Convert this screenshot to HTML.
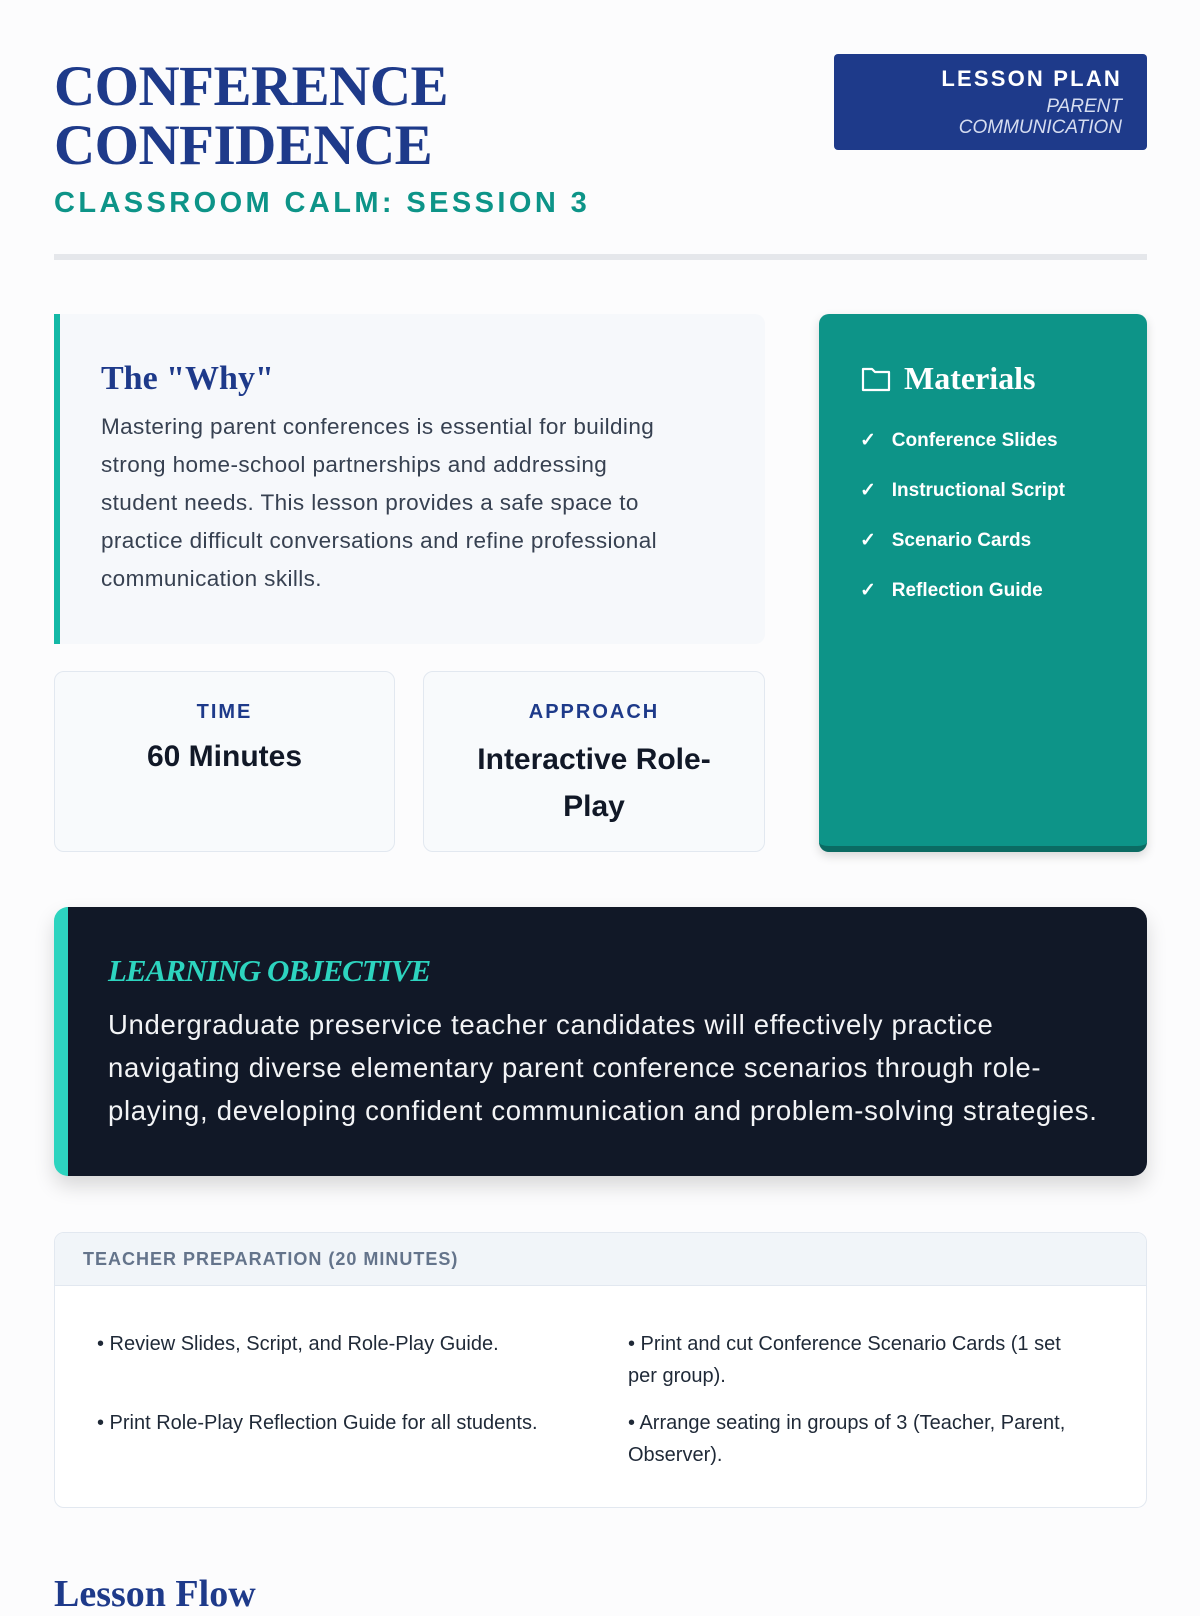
<!DOCTYPE html>
<html><head><meta charset="utf-8"><style>
*{margin:0;padding:0;box-sizing:border-box}
body{width:1200px;height:1600px;background:#fcfcfd;font-family:"Liberation Sans",sans-serif;position:relative;overflow:hidden}
.a{position:absolute}
.serif{font-family:"Liberation Serif",serif}
</style></head><body>
<div class="a serif" style="left:54px;top:57px;font-size:57px;font-weight:bold;color:#1e3a8a;line-height:59px;letter-spacing:-0.5px">CONFERENCE<br>CONFIDENCE</div>
<div class="a" style="left:54px;top:187px;font-size:29px;font-weight:bold;color:#0d9488;letter-spacing:3.4px">CLASSROOM CALM: SESSION 3</div>
<div class="a" style="left:834px;top:54px;width:313px;height:96px;background:#1e3a8a;border-radius:4px;text-align:right;padding:12px 25px 0 0;color:#fff">
<div style="font-size:22px;font-weight:bold;letter-spacing:2.2px">LESSON PLAN</div>
<div style="font-size:19px;font-style:italic;color:#d6ddf0;line-height:21px;margin-top:4px">PARENT<br>COMMUNICATION</div></div>
<div class="a" style="left:54px;top:254px;width:1093px;height:6px;background:#e5e7eb"></div>

<div class="a" style="left:54px;top:314px;width:711px;height:330px;background:#f6f8fb;border-left:6px solid #14b8a6;border-radius:0 10px 10px 0;padding:45px 40px 0 41px">
<div class="serif" style="font-size:34px;font-weight:bold;color:#1e3a8a;line-height:40px">The "Why"</div>
<div style="font-size:22.5px;color:#374151;line-height:38px;margin-top:9px;white-space:nowrap;letter-spacing:0.4px">Mastering parent conferences is essential for building<br>strong home-school partnerships and addressing<br>student needs. This lesson provides a safe space to<br>practice difficult conversations and refine professional<br>communication skills.</div></div>

<div class="a" style="left:819px;top:314px;width:328px;height:538px;background:#0d9488;border-radius:10px;border-bottom:6px solid #0b6b63;box-shadow:0 4px 10px rgba(0,0,0,.15);padding:46px 0 0 41px;color:#fff">
<div style="display:flex;align-items:center"><svg width="32" height="28" viewBox="0 0 32 28"><path d="M3 4h9l3 3h14v18H3z" fill="none" stroke="#fff" stroke-width="2.2" stroke-linejoin="round"/></svg><span class="serif" style="font-size:32px;font-weight:bold;margin-left:12px">Materials</span></div>
<div style="font-size:19px;font-weight:bold;line-height:50px;margin-top:19px">
<div>✓&nbsp;&nbsp; Conference Slides</div><div>✓&nbsp;&nbsp; Instructional Script</div><div>✓&nbsp;&nbsp; Scenario Cards</div><div>✓&nbsp;&nbsp; Reflection Guide</div></div></div>

<div class="a" style="left:54px;top:671px;width:341px;height:181px;background:#f8fafc;border:1px solid #e2e8f0;border-radius:10px;text-align:center;padding-top:29px">
<div style="font-size:20px;font-weight:bold;color:#1e3a8a;letter-spacing:2px">TIME</div>
<div style="font-size:30px;font-weight:bold;color:#111827;margin-top:16px">60 Minutes</div></div>
<div class="a" style="left:423px;top:671px;width:342px;height:181px;background:#f8fafc;border:1px solid #e2e8f0;border-radius:10px;text-align:center;padding:29px 30px 0">
<div style="font-size:20px;font-weight:bold;color:#1e3a8a;letter-spacing:2px">APPROACH</div>
<div style="font-size:30px;font-weight:bold;color:#111827;margin-top:12px;line-height:47px">Interactive Role-Play</div></div>

<div class="a" style="left:54px;top:907px;width:1093px;height:269px;background:#111827;border-left:14px solid #2dd4bf;border-radius:14px;box-shadow:0 10px 20px rgba(0,0,0,.15);padding:46px 20px 0 40px;color:#fff">
<div class="serif" style="font-size:31px;font-weight:bold;font-style:italic;color:#2dd4bf;letter-spacing:-1px">LEARNING OBJECTIVE</div>
<div style="font-size:27.5px;line-height:43px;margin-top:14px;color:#f3f4f6;white-space:nowrap;letter-spacing:0.7px">Undergraduate preservice teacher candidates will effectively practice<br>navigating diverse elementary parent conference scenarios through role-<br>playing, developing confident communication and problem-solving strategies.</div></div>

<div class="a" style="left:54px;top:1232px;width:1093px;height:276px;background:#fff;border:1px solid #e2e8f0;border-radius:10px;overflow:hidden">
<div style="height:53px;background:#f1f5f9;border-bottom:1px solid #e2e8f0;padding:16px 0 0 28px;font-size:18px;font-weight:bold;color:#64748b;letter-spacing:1px">TEACHER PREPARATION (20 MINUTES)</div>
<div class="a" style="left:42px;top:95px;width:500px;font-size:20px;color:#1f2937;line-height:32px">• Review Slides, Script, and Role-Play Guide.</div>
<div class="a" style="left:42px;top:174px;width:500px;font-size:20px;color:#1f2937;line-height:32px">• Print Role-Play Reflection Guide for all students.</div>
<div class="a" style="left:573px;top:95px;width:455px;font-size:20px;color:#1f2937;line-height:32px">• Print and cut Conference Scenario Cards (1 set per group).</div>
<div class="a" style="left:573px;top:174px;width:470px;font-size:20px;color:#1f2937;line-height:32px">• Arrange seating in groups of 3 (Teacher, Parent, Observer).</div></div>

<div class="a serif" style="left:54px;top:1572px;font-size:38px;font-weight:bold;color:#1e3a8a">Lesson Flow</div>
</body></html>
